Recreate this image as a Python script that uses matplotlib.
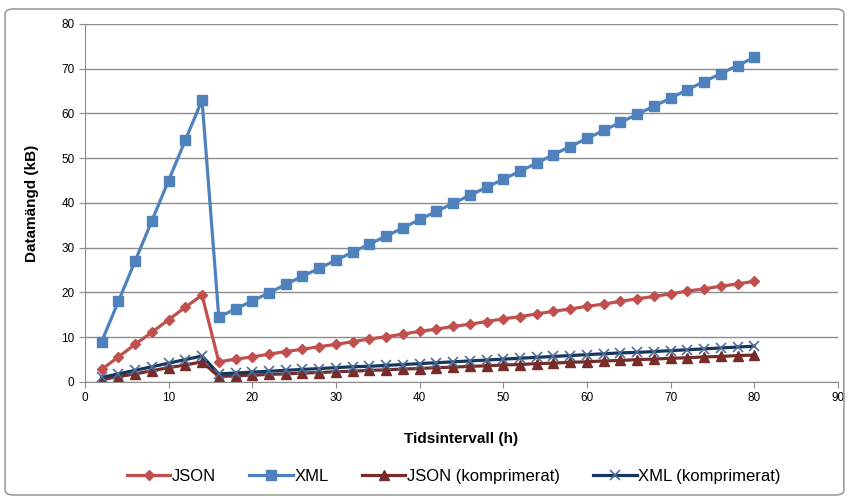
import matplotlib
matplotlib.use("Agg")
import matplotlib.pyplot as plt
from matplotlib.patches import FancyBboxPatch

plt.rcParams['font.family'] = ['Liberation Sans', 'DejaVu Sans']

# hours
hours = list(range(2, 82, 2))

json_kb = [2.8, 5.6, 8.4, 11.1, 13.9, 16.7, 19.4,
           4.5, 5.1, 5.6, 6.2, 6.8, 7.3, 7.9, 8.4, 9.0, 9.6, 10.1, 10.7, 11.3,
           11.8, 12.4, 12.9, 13.5, 14.1, 14.6, 15.2, 15.8, 16.3, 16.9, 17.4,
           18.0, 18.6, 19.1, 19.7, 20.3, 20.8, 21.4, 21.9, 22.5]
xml_kb = [9.0, 18.0, 27.0, 36.0, 45.0, 54.0, 63.0,
          14.5, 16.3, 18.1, 19.9, 21.8, 23.6, 25.4, 27.2, 29.0, 30.8, 32.6,
          34.4, 36.3, 38.1, 39.9, 41.7, 43.5, 45.3, 47.1, 48.9, 50.8, 52.6,
          54.4, 56.2, 58.0, 59.8, 61.6, 63.4, 65.3, 67.1, 68.9, 70.7, 72.5]
json_comp = [0.5, 1.2, 1.8, 2.5, 3.2, 3.8, 4.5,
             1.2, 1.4, 1.5, 1.7, 1.8, 2.0, 2.1, 2.3, 2.4, 2.6, 2.7, 2.9, 3.0,
             3.2, 3.3, 3.5, 3.6, 3.8, 3.9, 4.1, 4.2, 4.4, 4.5, 4.7, 4.8, 5.0,
             5.1, 5.3, 5.4, 5.6, 5.7, 5.9, 6.0]
xml_comp = [1.0, 1.8, 2.6, 3.4, 4.2, 5.0, 5.8,
            1.8, 2.0, 2.2, 2.4, 2.6, 2.8, 3.0, 3.2, 3.4, 3.5, 3.7, 3.9, 4.1,
            4.3, 4.5, 4.7, 4.9, 5.1, 5.3, 5.5, 5.7, 5.9, 6.1, 6.3, 6.5, 6.6,
            6.8, 7.0, 7.2, 7.4, 7.6, 7.8, 8.0]

fig = plt.figure(figsize=(8.49, 4.98), dpi=100)
ax = fig.add_axes([0.100, 0.233, 0.887, 0.719])

ax.plot(hours, json_kb, color='#C0504D', lw=2.3, marker='D', ms=5.5,
        label='JSON')
ax.plot(hours, xml_kb, color='#4F81BD', lw=2.3, marker='s', ms=7,
        label='XML')
ax.plot(hours, json_comp, color='#772C2A', lw=2.3, marker='^', ms=7,
        label='JSON (komprimerat)')
ax.plot(hours, xml_comp, color='#17375E', lw=2.3, marker='x', ms=7,
        mec='#4F6E99', mew=1.2, label='XML (komprimerat)')

ax.set_xlim(0, 90)
ax.set_ylim(0, 80)
ax.set_xticks(range(0, 91, 10))
ax.set_yticks(range(0, 81, 10))
ax.yaxis.grid(True, color='#8C8C8C', lw=1)
ax.set_axisbelow(True)
for s in ['top', 'right']:
    ax.spines[s].set_visible(False)
for s in ['left', 'bottom']:
    ax.spines[s].set_color('#8C8C8C')
ax.tick_params(labelsize=8.5, colors='#8C8C8C', labelcolor='black', length=4)

ax.set_xlabel('Tidsintervall (h)', fontsize=11, fontweight='bold', labelpad=20)
ax.set_ylabel('Datamängd (kB)', fontsize=11, fontweight='bold', labelpad=16)

ax.legend(loc='upper center', bbox_to_anchor=(0.49, -0.2), ncol=4,
          frameon=False, fontsize=12, handlelength=2.6, columnspacing=2.0,
          handletextpad=0.1)

border = FancyBboxPatch((0.006, 0.006), 0.988, 0.976,
                        boxstyle='round,pad=0,rounding_size=0.01',
                        transform=fig.transFigure, fill=False,
                        ec='#8C8C8C', lw=1)
fig.patches.append(border)

fig.savefig('out.png', dpi=100)
